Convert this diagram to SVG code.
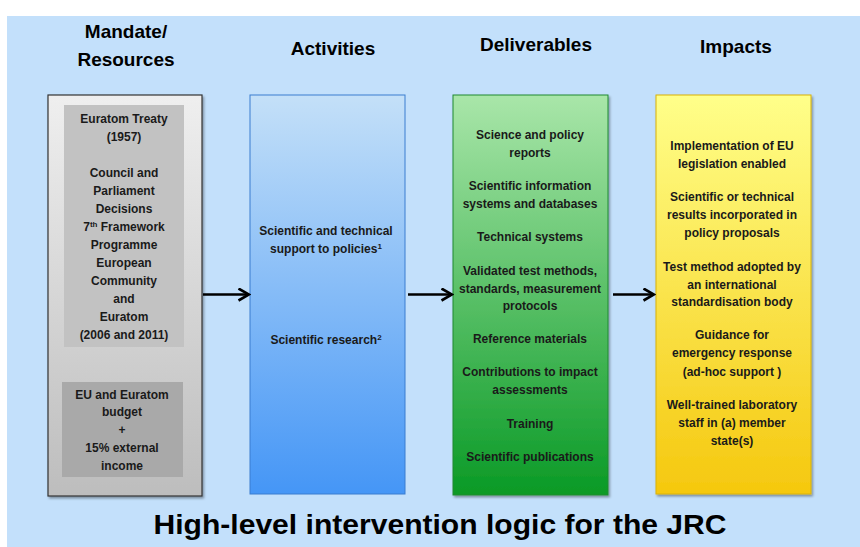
<svg xmlns="http://www.w3.org/2000/svg" width="860" height="547" viewBox="0 0 860 547">
  <style>
    .hdr { font-family: "Liberation Sans", Arial, sans-serif; font-weight: bold; font-size: 19px; fill: #000; text-anchor: middle; }
    .txt { font-family: "Liberation Sans", Arial, sans-serif; font-weight: bold; font-size: 12px; fill: #1a1a1a; text-anchor: middle; }
    .sup { font-size: 8px; }
    .title { font-family: "Liberation Sans", Arial, sans-serif; font-weight: bold; font-size: 28px; fill: #000; text-anchor: middle; }
    .conn { stroke: #000; stroke-width: 2.5; fill: none; }
  </style>
  <defs>
    <linearGradient id="gGray" x1="0" y1="0" x2="0" y2="1">
      <stop offset="0" stop-color="#efefef"/>
      <stop offset="1" stop-color="#bdbdbd"/>
    </linearGradient>
    <linearGradient id="gBlue" x1="0" y1="0" x2="0" y2="1">
      <stop offset="0" stop-color="#c4e0f8"/>
      <stop offset="1" stop-color="#4596f6"/>
    </linearGradient>
    <linearGradient id="gGreen" x1="0" y1="0" x2="0" y2="1">
      <stop offset="0" stop-color="#a9e6a9"/>
      <stop offset="1" stop-color="#0a9a26"/>
    </linearGradient>
    <linearGradient id="gYellow" x1="0" y1="0" x2="0" y2="1">
      <stop offset="0" stop-color="#ffff8a"/>
      <stop offset="1" stop-color="#f5c80e"/>
    </linearGradient>
    <filter id="shadow" x="-10%" y="-5%" width="120%" height="110%">
      <feDropShadow dx="1.5" dy="2" stdDeviation="1.2" flood-color="#000" flood-opacity="0.35"/>
    </filter>
    <marker id="arrow" viewBox="0 0 14 14" refX="12" refY="7" markerWidth="14" markerHeight="14" orient="auto" markerUnits="userSpaceOnUse">
      <path d="M1.5,1 L12,7 L1.5,13" fill="none" stroke="#000" stroke-width="2.6" stroke-linejoin="miter"/>
    </marker>
  </defs>

  <!-- page background -->
  <rect x="0" y="0" width="860" height="547" fill="#ffffff"/>
  <rect x="7" y="16" width="853" height="531" fill="#c3e0fb"/>

  <!-- column headers -->
  <g id="headers">
    <text class="hdr" x="126" y="38">Mandate/</text>
    <text class="hdr" x="126" y="66">Resources</text>
    <text class="hdr" x="333" y="55">Activities</text>
    <text class="hdr" x="536" y="51">Deliverables</text>
    <text class="hdr" x="736" y="53">Impacts</text>
  </g>

  <!-- mandate / resources -->
  <g id="mandate">
    <rect x="48" y="95" width="154" height="401" fill="url(#gGray)" stroke="#333" stroke-width="1.2" filter="url(#shadow)"/>
    <rect x="64" y="105" width="120" height="242" fill="#c2c2c2"/>
    <text class="txt" x="124" y="123">Euratom Treaty</text>
    <text class="txt" x="124" y="141">(1957)</text>
    <text class="txt" x="124" y="177">Council and</text>
    <text class="txt" x="124" y="195">Parliament</text>
    <text class="txt" x="124" y="213">Decisions</text>
    <text class="txt" x="124" y="231">7<tspan class="sup" dy="-4">th</tspan><tspan dy="4"> Framework</tspan></text>
    <text class="txt" x="124" y="249">Programme</text>
    <text class="txt" x="124" y="267">European</text>
    <text class="txt" x="124" y="285">Community</text>
    <text class="txt" x="124" y="303">and</text>
    <text class="txt" x="124" y="321">Euratom</text>
    <text class="txt" x="124" y="339">(2006 and 2011)</text>
    <rect x="62" y="382" width="121" height="95" fill="#a9a9a9"/>
    <text class="txt" x="122" y="399">EU and Euratom</text>
    <text class="txt" x="122" y="416">budget</text>
    <text class="txt" x="122" y="434">+</text>
    <text class="txt" x="122" y="452">15% external</text>
    <text class="txt" x="122" y="470">income</text>
  </g>

  <!-- activities -->
  <g id="activities">
    <rect x="250" y="95" width="155" height="399" fill="url(#gBlue)" stroke="#3a7dd0" stroke-width="1"/>
    <text class="txt" x="326" y="235">Scientific and technical</text>
    <text class="txt" x="326" y="253">support to policies<tspan class="sup" dy="-4">1</tspan></text>
    <text class="txt" x="326" y="344">Scientific research<tspan class="sup" dy="-4">2</tspan></text>
  </g>

  <!-- deliverables -->
  <g id="deliverables">
    <rect x="453" y="95" width="155" height="400" fill="url(#gGreen)" stroke="#1f8a30" stroke-width="1" filter="url(#shadow)"/>
    <text class="txt" x="530" y="139">Science and policy</text>
    <text class="txt" x="530" y="157">reports</text>
    <text class="txt" x="530" y="190">Scientific information</text>
    <text class="txt" x="530" y="208">systems and databases</text>
    <text class="txt" x="530" y="241">Technical systems</text>
    <text class="txt" x="530" y="275">Validated test methods,</text>
    <text class="txt" x="530" y="293">standards, measurement</text>
    <text class="txt" x="530" y="310">protocols</text>
    <text class="txt" x="530" y="343">Reference materials</text>
    <text class="txt" x="530" y="376">Contributions to impact</text>
    <text class="txt" x="530" y="394">assessments</text>
    <text class="txt" x="530" y="428">Training</text>
    <text class="txt" x="530" y="461">Scientific publications</text>
  </g>

  <!-- impacts -->
  <g id="impacts">
    <rect x="656" y="95" width="155" height="399" fill="url(#gYellow)" stroke="#d9b20a" stroke-width="1" filter="url(#shadow)"/>
    <text class="txt" x="732" y="150">Implementation of EU</text>
    <text class="txt" x="732" y="168">legislation enabled</text>
    <text class="txt" x="732" y="201">Scientific or technical</text>
    <text class="txt" x="732" y="219">results incorporated in</text>
    <text class="txt" x="732" y="237">policy proposals</text>
    <text class="txt" x="732" y="271">Test method adopted by</text>
    <text class="txt" x="732" y="289">an international</text>
    <text class="txt" x="732" y="306">standardisation body</text>
    <text class="txt" x="732" y="339">Guidance for</text>
    <text class="txt" x="732" y="357">emergency response</text>
    <text class="txt" x="732" y="376">(ad-hoc support )</text>
    <text class="txt" x="732" y="409">Well-trained laboratory</text>
    <text class="txt" x="732" y="427">staff in (a) member</text>
    <text class="txt" x="732" y="445">state(s)</text>
  </g>

  <!-- connectors -->
  <g id="connectors">
    <line class="conn" x1="203" y1="294.5" x2="249" y2="294.5" marker-end="url(#arrow)"/>
    <line class="conn" x1="408" y1="294.5" x2="452" y2="294.5" marker-end="url(#arrow)"/>
    <line class="conn" x1="613" y1="294.5" x2="654" y2="294.5" marker-end="url(#arrow)"/>
  </g>

  <text class="title" x="440" y="534" textLength="573" lengthAdjust="spacingAndGlyphs">High-level intervention logic for the JRC</text>
</svg>
